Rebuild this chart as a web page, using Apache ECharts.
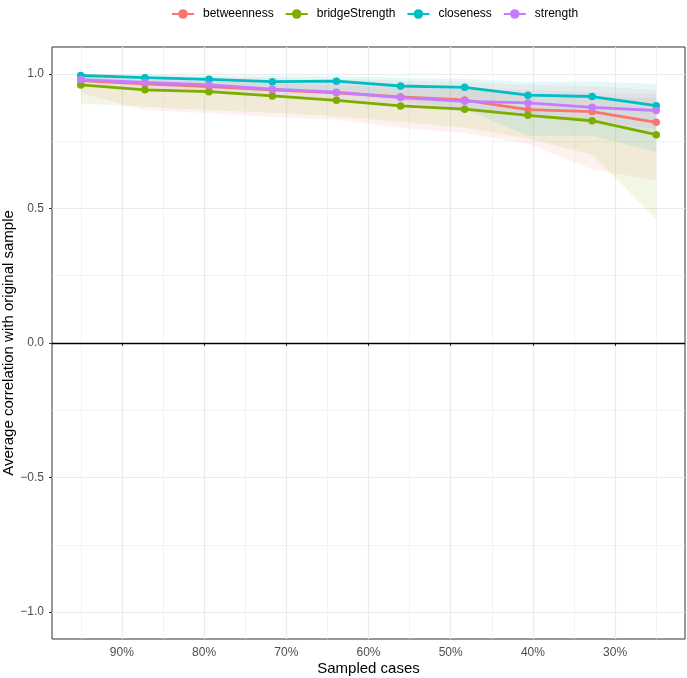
<!DOCTYPE html>
<html>
<head>
<meta charset="utf-8">
<script src="https://cdn.jsdelivr.net/npm/echarts@6/dist/echarts.min.js"></script>
<style>
  html, body { margin: 0; padding: 0; background: #fff; }
  #chart { width: 687px; height: 678px; }
</style>
</head>
<body>
<div id="chart"></div>
<script>
// proportion of cases kept in each subsample (%)
const sampled = [95, 87.2, 79.4, 71.7, 63.9, 56.1, 48.3, 40.6, 32.8, 25];

const measures = ['betweenness', 'bridgeStrength', 'closeness', 'strength'];
const colors = ['#F8766D', '#7CAE00', '#00BFC4', '#C77CFF'];

// mean correlation with the original sample
const betweenness    = [0.975, 0.963, 0.953, 0.941, 0.930, 0.915, 0.903, 0.867, 0.860, 0.820];
const bridgeStrength = [0.959, 0.941, 0.934, 0.918, 0.902, 0.881, 0.869, 0.846, 0.826, 0.774];
const closeness      = [0.994, 0.986, 0.980, 0.971, 0.973, 0.955, 0.950, 0.921, 0.916, 0.882];
const strength       = [0.979, 0.968, 0.959, 0.943, 0.932, 0.912, 0.898, 0.892, 0.876, 0.864];

// quantile band (lower / upper)
const betweennessLow  = [0.930, 0.865, 0.855, 0.840, 0.830, 0.800, 0.780, 0.740, 0.645, 0.605];
const betweennessHigh = [0.995, 0.990, 0.988, 0.985, 0.982, 0.975, 0.970, 0.960, 0.955, 0.940];
const bridgeLow       = [0.890, 0.878, 0.866, 0.856, 0.842, 0.822, 0.800, 0.760, 0.700, 0.460];
const bridgeHigh      = [0.985, 0.978, 0.972, 0.965, 0.958, 0.948, 0.942, 0.925, 0.915, 0.910];
const closenessLow    = [0.975, 0.960, 0.950, 0.935, 0.925, 0.900, 0.870, 0.770, 0.770, 0.710];
const closenessHigh   = [1.000, 0.998, 0.995, 0.993, 0.992, 0.985, 0.982, 0.970, 0.972, 0.963];
const strengthLow     = [0.960, 0.945, 0.935, 0.915, 0.900, 0.875, 0.860, 0.845, 0.825, 0.795];
const strengthHigh    = [0.992, 0.988, 0.982, 0.975, 0.968, 0.955, 0.945, 0.940, 0.932, 0.925];

const xMajor = [90, 80, 70, 60, 50, 40, 30];
const xMinor = [95, 85, 75, 65, 55, 45, 35, 25];
const yMajor = [-1, -0.5, 0, 0.5, 1];
const yMinor = [-0.75, -0.25, 0.25, 0.75];

const means = [betweenness, bridgeStrength, closeness, strength];
const lows = [betweennessLow, bridgeLow, closenessLow, strengthLow];
const highs = [betweennessHigh, bridgeHigh, closenessHigh, strengthHigh];

function hexA(hex, a) {
    const n = parseInt(hex.slice(1), 16);
    return `rgba(${(n >> 16) & 255},${(n >> 8) & 255},${n & 255},${a})`;
}

const series = [];
// ribbons: one polygon per measure, upper edge then lower edge back
measures.forEach((name, i) => {
    series.push({
        name: name + '_band',
        type: 'custom',
        data: sampled.map((x, j) => [x, lows[i][j], highs[i][j]]),
        encode: { x: 0, y: [1, 2] },
        silent: true,
        z: 1,
        renderItem: (params, api) => {
            if (params.dataIndex !== 0) return null;
            const top = sampled.map((x, j) => api.coord([x, highs[i][j]]));
            const bot = sampled.map((x, j) => api.coord([x, lows[i][j]])).reverse();
            return {
                type: 'polygon',
                shape: { points: top.concat(bot) },
                style: { fill: hexA(colors[i], 0.1) }
            };
        }
    });
});
measures.forEach((name, i) => {
    const s = {
        name: name,
        type: 'line',
        data: sampled.map((x, j) => [x, means[i][j]]),
        symbol: 'circle',
        symbolSize: 7.5,
        itemStyle: { color: colors[i] },
        lineStyle: { color: colors[i], width: 2.8 },
        z: 3
    };
    if (i === 0) {
        s.markLine = {
            silent: true,
            symbol: 'none',
            label: { show: false },
            lineStyle: { color: '#000', width: 1.4, type: 'solid' },
            data: [{ yAxis: 0 }]
        };
    }
    series.push(s);
});

const chart = echarts.init(document.getElementById('chart'));
const tickFont = { color: '#4D4D4D', fontSize: 12, fontFamily: 'Liberation Sans' };
chart.setOption({
    backgroundColor: '#ffffff',
    animation: false,
    color: colors,
    legend: {
        data: measures,
        top: 8,
        left: 171,
        padding: 0,
        itemWidth: 22,
        itemHeight: 12,
        itemGap: 11,
        textStyle: { fontSize: 12, color: '#000', fontFamily: 'Liberation Sans', padding: [0, 0, 0, 4] }
    },
    grid: {
        left: 52, right: 2, top: 47, bottom: 39,
        outerBoundsMode: 'none',
        containLabel: false,
        show: true, borderColor: '#333333', borderWidth: 1, backgroundColor: 'transparent'
    },
    xAxis: [{
        type: 'value',
        inverse: true,
        min: 21.5, max: 98.5,
        name: 'Sampled cases',
        nameLocation: 'middle',
        nameGap: 22,
        nameMoveOverlap: false,
        nameTextStyle: { fontSize: 15, color: '#000', fontFamily: 'Liberation Sans' },
        axisLine: { show: false },
        axisTick: { show: true, length: 3, lineStyle: { color: '#333' }, customValues: xMajor },
        axisLabel: Object.assign({ customValues: xMajor, formatter: v => v + '%', margin: 8 }, tickFont),
        splitLine: { show: true, lineStyle: { color: '#EBEBEB', width: 1.2 } }
    }, {
        type: 'value',
        inverse: true,
        min: 21.5, max: 98.5,
        axisLine: { show: false },
        axisTick: { show: false, customValues: xMinor },
        axisLabel: { show: false, customValues: xMinor },
        splitLine: { show: true, lineStyle: { color: '#EBEBEB', width: 0.6 } }
    }],
    yAxis: [{
        type: 'value',
        min: -1.1, max: 1.1,
        name: 'Average correlation with original sample',
        nameLocation: 'middle',
        nameGap: 36,
        nameMoveOverlap: false,
        nameTextStyle: { fontSize: 15, color: '#000', fontFamily: 'Liberation Sans' },
        axisLine: { show: false },
        axisTick: { show: true, length: 3, lineStyle: { color: '#333' }, customValues: yMajor },
        axisLabel: Object.assign({
            customValues: yMajor, margin: 8,
            formatter: v => (v < 0 ? '\u2212' : '') + Math.abs(v).toFixed(1)
        }, tickFont),
        splitLine: { show: true, lineStyle: { color: '#EBEBEB', width: 1.2 } }
    }, {
        type: 'value',
        min: -1.1, max: 1.1,
        axisLine: { show: false },
        axisTick: { show: false, customValues: yMinor },
        axisLabel: { show: false, customValues: yMinor },
        splitLine: { show: true, lineStyle: { color: '#EBEBEB', width: 0.6 } }
    }],
    series: series
});
</script>
</body>
</html>
